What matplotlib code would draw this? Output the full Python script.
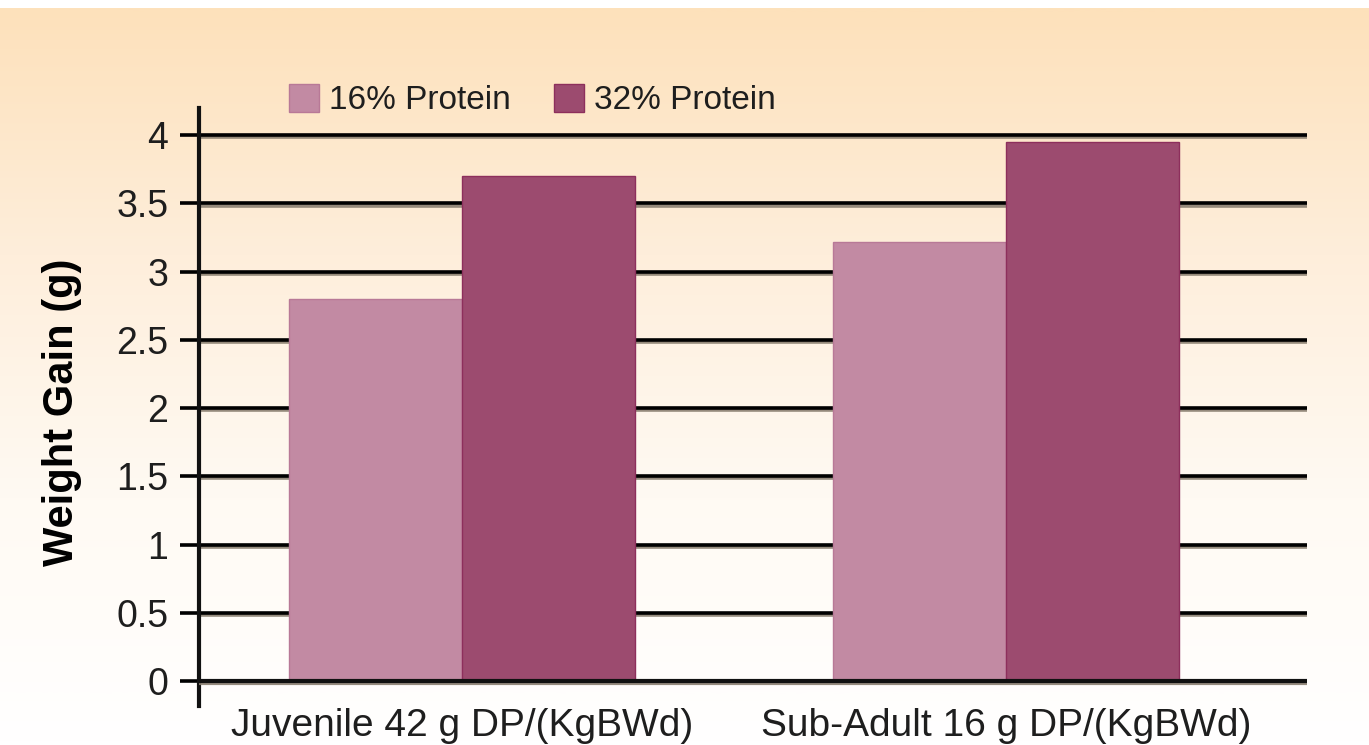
import matplotlib.pyplot as plt
import matplotlib.patheffects as pe
import numpy as np
from matplotlib.colors import LinearSegmentedColormap

plt.rcParams['font.family'] = ['Liberation Sans', 'DejaVu Sans']
plt.rcParams['text.color'] = '#1e1e1e'
plt.rcParams['ytick.labelcolor'] = '#1e1e1e'
plt.rcParams['xtick.labelcolor'] = '#1e1e1e'

categories = ['Juvenile 42 g DP/(KgBWd)', 'Sub-Adult 16 g DP/(KgBWd)']
series_names = ['16% Protein', '32% Protein']
low_protein = [2.8, 3.22]
high_protein = [3.7, 3.95]
yticks = [0, 0.5, 1, 1.5, 2, 2.5, 3, 3.5, 4]
ytick_labels = ['0', '0.5', '1', '1.5', '2', '2.5', '3', '3.5', '4']

W, H = 1369, 745
fig = plt.figure(figsize=(W / 100, H / 100), dpi=100)

# background gradient: peach at top fading to white
bg = fig.add_axes([0, 0, 1, 1], zorder=-10)
grad = np.linspace(0, 1, 300).reshape(-1, 1)
cmap = LinearSegmentedColormap.from_list('bg', ['#fde1bb', '#feeedb', '#fffaf3', '#ffffff'])
bg.imshow(grad, aspect='auto', cmap=cmap, extent=[0, 1, 0, 1 - 8 / H], origin='upper')
bg.set_xlim(0, 1)
bg.set_ylim(0, 1)
bg.axis('off')

ax = fig.add_axes([199 / W, 1 - 705.5 / H, (1307 - 199) / W, (705.5 - 108) / H])
ax.patch.set_alpha(0)

x = np.arange(len(categories))
width = 0.318
shadow = [pe.SimpleLineShadow(offset=(0, -1.5), shadow_color='#8a7f70', alpha=0.9), pe.Normal()]

for yv in yticks[1:]:
    ax.axhline(yv, color='black', lw=2.6, zorder=1, path_effects=shadow)
ax.axhline(0, color='#111111', lw=3, zorder=5, path_effects=shadow)

ax.bar(x - width / 2, low_protein, width, color='#c28aa3', edgecolor='#b87997',
       linewidth=1, zorder=3, label=series_names[0])
ax.bar(x + width / 2, high_protein, width, color='#9c4b6f', edgecolor='#8d2f5c',
       linewidth=1, zorder=3, label=series_names[1])

ax.set_xlim(-0.483, 1.553)
ax.set_ylim(-0.18, 4.2)
ax.set_yticks(yticks)
ax.set_yticklabels(ytick_labels, fontsize=27)
ax.set_xticks(x)
ax.set_xticklabels(categories, fontsize=28)
ax.tick_params(axis='y', length=14, width=2.6, color='black', pad=8)
ax.tick_params(axis='x', length=0, pad=2)
for s in ['top', 'right', 'bottom']:
    ax.spines[s].set_visible(False)
ax.spines['left'].set_linewidth(3)
ax.spines['left'].set_color('#111111')

ax.set_ylabel('Weight Gain (g)', fontsize=30, fontweight='bold')
ax.yaxis.set_label_coords(-0.106, 0.49)

leg = ax.legend(loc='center left', bbox_to_anchor=(90 / 1108, (705.5 - 100) / 597.5), ncol=2,
                frameon=False, fontsize=24, handlelength=0.9, handleheight=0.9,
                handletextpad=0.3, columnspacing=1.3, borderaxespad=0, borderpad=0)

fig.savefig('out.png', dpi=100)
